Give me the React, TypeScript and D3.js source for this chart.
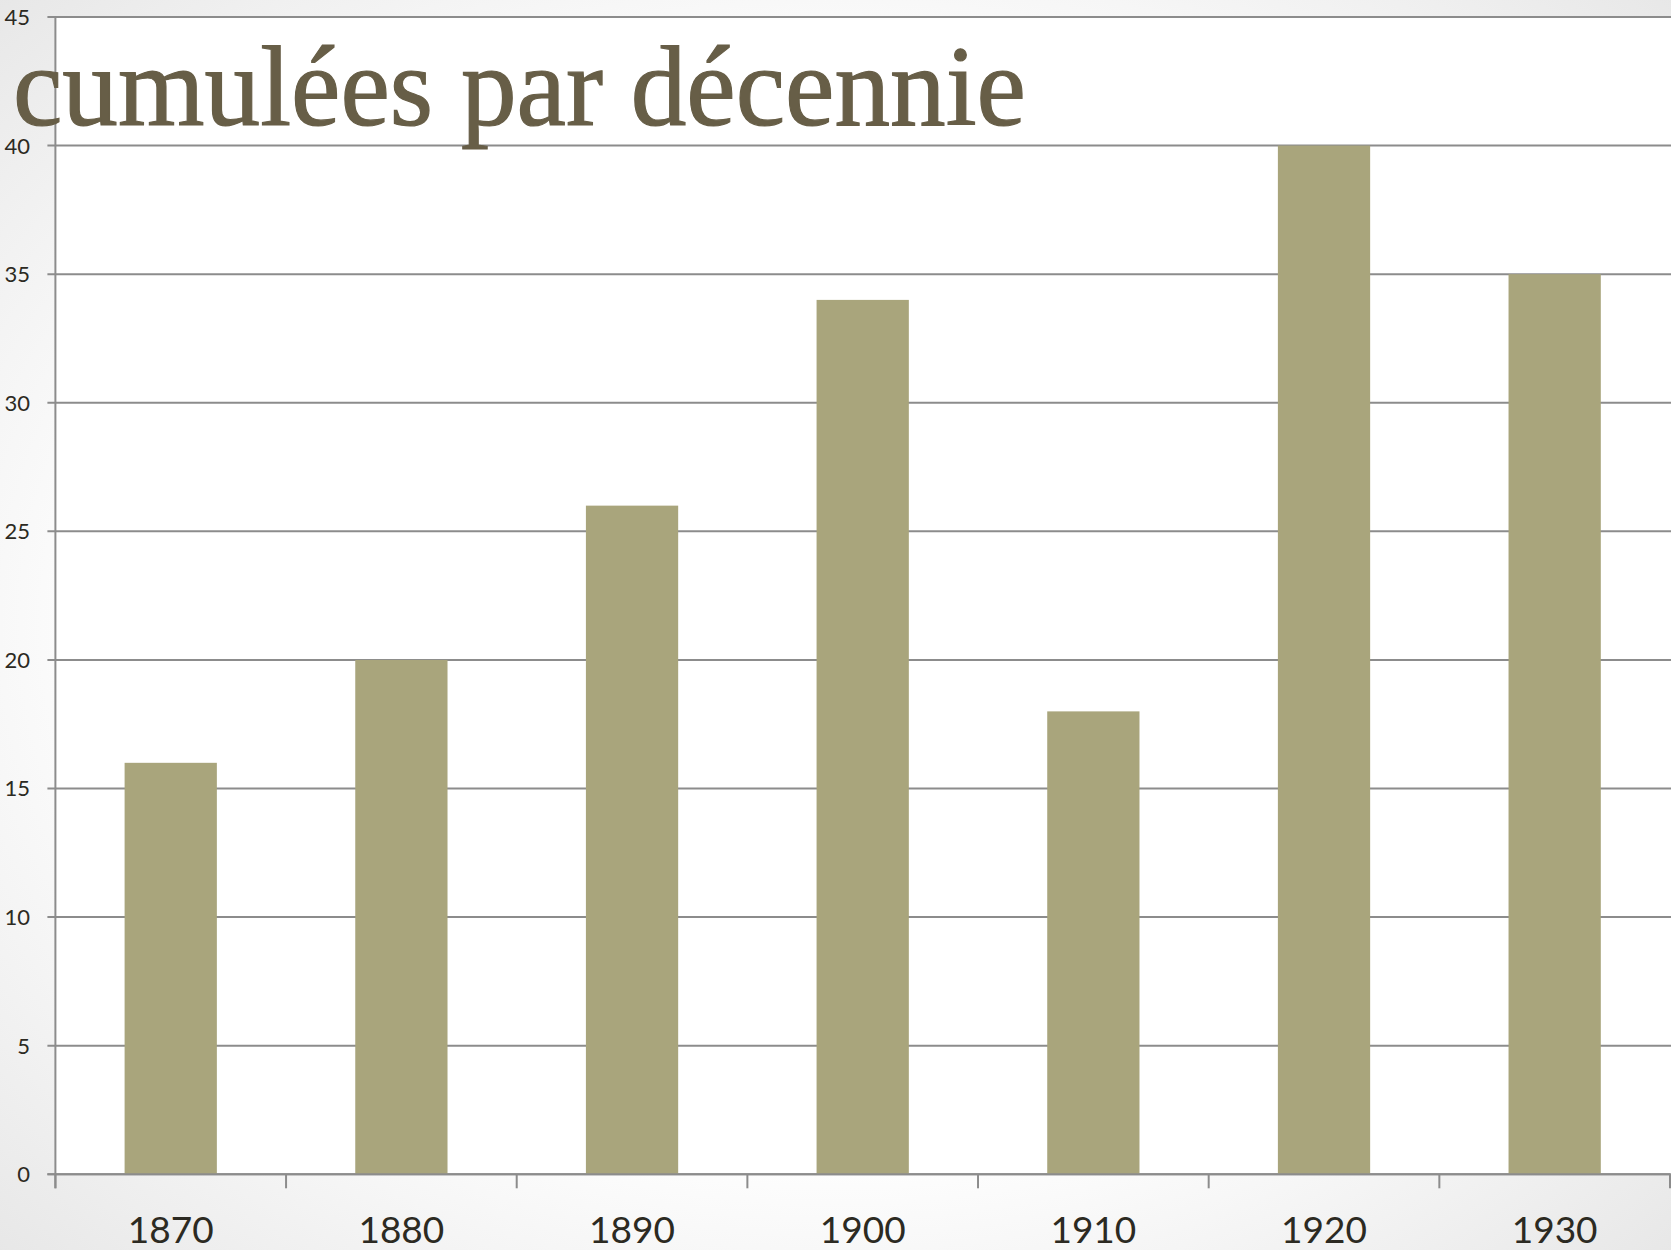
import React from "react";
import * as d3 from "d3";

const decades: string[] = ["1870", "1880", "1890", "1900", "1910", "1920", "1930"];
const counts: number[] = [16, 20, 26, 34, 18, 40, 35];
const yTicks: number[] = [0, 5, 10, 15, 20, 25, 30, 35, 40, 45];
const titleText = "cumulées par décennie";

const W = 1671;
const H = 1250;
const left = 55.4;
const right = 1670;
const top = 17;
const bottom = 1174.3;

export default function App() {
  const x = d3
    .scaleBand<string>()
    .domain(decades)
    .range([left, right])
    .paddingInner(0.6)
    .paddingOuter(0.3);
  const y = d3.scaleLinear().domain([0, 45]).range([bottom, top]);
  const step = x.step();
  const tickXs = d3.range(decades.length + 1).map((i) => left + i * step);

  return (
    <svg
      width={W}
      height={H}
      style={{ position: "absolute", left: 0, top: 0, display: "block" }}
    >
      <defs>
        <radialGradient id="bg" cx="0.5" cy="0.5" r="0.75">
          <stop offset="0.55" stopColor="#ffffff" />
          <stop offset="1" stopColor="#e4e4e4" />
        </radialGradient>
      </defs>
      <rect x={0} y={0} width={W} height={H} fill="url(#bg)" />
      <rect x={left} y={top} width={W - left} height={bottom - top} fill="#ffffff" />

      {/* gridlines */}
      {yTicks.map((t) => (
        <line
          key={"g" + t}
          x1={left - 8}
          x2={W}
          y1={y(t)}
          y2={y(t)}
          stroke="#8c8c8c"
          strokeWidth={2}
        />
      ))}

      {/* bars */}
      {decades.map((d, i) => (
        <rect
          key={d}
          x={x(d)}
          y={y(counts[i])}
          width={x.bandwidth()}
          height={y(0) - y(counts[i])}
          fill="#A9A57C"
        />
      ))}

      {/* zero baseline over bars */}
      <line x1={left - 8} x2={right} y1={y(0)} y2={y(0)} stroke="#8c8c8c" strokeWidth={2} />

      {/* y axis */}
      <line x1={left} x2={left} y1={top} y2={bottom + 14} stroke="#8c8c8c" strokeWidth={2} />
      {tickXs.map((tx, i) => (
        <line
          key={"t" + i}
          x1={tx}
          x2={tx}
          y1={bottom}
          y2={bottom + 14}
          stroke="#8c8c8c"
          strokeWidth={2}
        />
      ))}

      {/* y tick labels */}
      {yTicks.map((t) => (
        <text
          key={"yl" + t}
          x={30}
          y={y(t)}
          dy="0.36em"
          textAnchor="end"
          fontFamily="Lato, 'Open Sans', sans-serif"
          fontSize={22}
          fill="#2c2a22"
        >
          {t}
        </text>
      ))}

      {/* x labels */}
      {decades.map((d) => (
        <text
          key={"xl" + d}
          x={(x(d) as number) + x.bandwidth() / 2}
          y={1243}
          textAnchor="middle"
          fontFamily="Lato, 'Open Sans', sans-serif"
          fontSize={37}
          fill="#2c2a22"
        >
          {d}
        </text>
      ))}

      {/* title */}
      <text
        x={13}
        y={125}
        fontFamily="'Liberation Serif', 'DejaVu Serif', serif"
        fontSize={114}
        fill="#675E47"
        stroke="#675E47"
        strokeWidth={1.2}
        textLength={1013}
        lengthAdjust="spacingAndGlyphs"
      >
        {titleText}
      </text>
    </svg>
  );
}
